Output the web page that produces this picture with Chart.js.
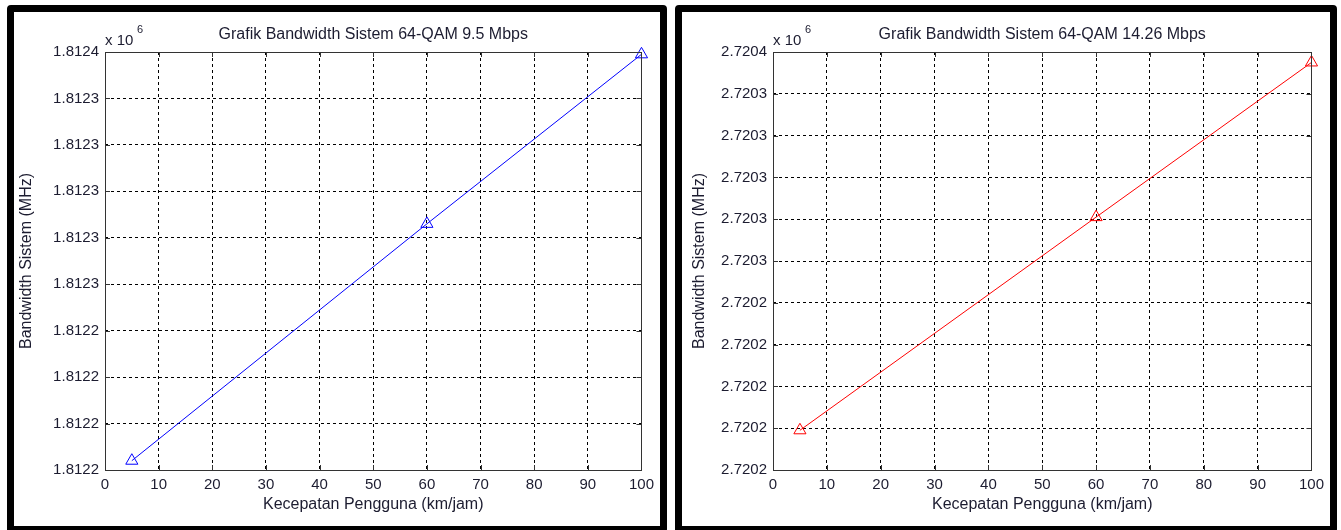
<!DOCTYPE html>
<html>
<head>
<meta charset="utf-8">
<script src="https://cdn.jsdelivr.net/npm/chart.js"></script>
<style>
  body { margin: 0; background: #fff; width: 1341px; height: 530px; overflow: hidden; position: relative; }
  .panel { position: absolute; top: 5px; border: 7px solid #000; border-radius: 4px; background: #fff; }
  #p1 { left: 7px; width: 646px; height: 514px; }
  #p2 { left: 675px; width: 648px; height: 514px; }
  canvas { display: block; }
</style>
</head>
<body>
<div class="panel" id="p1"><canvas id="chart1" width="646" height="514"></canvas></div>
<div class="panel" id="p2"><canvas id="chart2" width="648" height="514"></canvas></div>
<script>
// kecepatan pengguna (km/jam)
const speeds = [5, 60, 100];
// bandwidth sistem (Hz, axis shows x 10^6)
const bw95 = [1812184, 1812286, 1812359];
const bw1426 = [2720179, 2720281, 2720355];

const xTicks = { min: 0, max: 100, step: 10 };
const yTicks95 = { min: 1812180, max: 1812360, step: 20 };
const yTicks1426 = { min: 2720160, max: 2720360, step: 20 };

const FONT = '"Liberation Sans", Arial, sans-serif';
const TEXT = '#1c1c30';

// MATLAB style frame, inward ticks and texts
const matlabFrame = {
  id: 'matlabFrame',
  afterDraw(chart, args, opts) {
    const { ctx, chartArea: a, scales } = chart;
    ctx.save();
    ctx.strokeStyle = '#333';
    ctx.lineWidth = 1;
    ctx.beginPath();
    scales.x.ticks.forEach(t => {
      const x = Math.round(scales.x.getPixelForValue(t.value)) + 0.5;
      ctx.moveTo(x, a.bottom); ctx.lineTo(x, a.bottom - 5);
      ctx.moveTo(x, a.top); ctx.lineTo(x, a.top + 5);
    });
    scales.y.ticks.forEach(t => {
      const y = Math.round(scales.y.getPixelForValue(t.value)) + 0.5;
      ctx.moveTo(a.left, y); ctx.lineTo(a.left + 5, y);
      ctx.moveTo(a.right, y); ctx.lineTo(a.right - 5, y);
    });
    ctx.stroke();
    ctx.strokeRect(Math.round(a.left) + 0.5, Math.round(a.top) + 0.5,
      Math.round(a.right - a.left), Math.round(a.bottom - a.top));

    ctx.fillStyle = TEXT;
    ctx.font = '16px ' + FONT;
    ctx.textAlign = 'center';
    ctx.textBaseline = 'middle';
    ctx.fillText(opts.title, (a.left + a.right) / 2, a.top - 17);
    ctx.fillText(opts.xLabel, (a.left + a.right) / 2, a.bottom + 35);

    ctx.save();
    ctx.translate(a.left - opts.yLabelGap, (a.top + a.bottom) / 2);
    ctx.rotate(-Math.PI / 2);
    ctx.fillText(opts.yLabel, 0, 0);
    ctx.restore();

    ctx.font = '15px ' + FONT;
    ctx.textAlign = 'left';
    ctx.textBaseline = 'alphabetic';
    ctx.fillText('x 10', a.left, a.top - 7);
    ctx.font = '11px ' + FONT;
    ctx.fillText('6', a.left + 32, a.top - 19);
    ctx.restore();
  }
};

function makeChart(id, values, yt, color, title, yGap) {
  const ctx = document.getElementById(id).getContext('2d');
  return new Chart(ctx, {
    type: 'line',
    data: {
      datasets: [
        {
          data: speeds.map((s, i) => ({ x: s, y: values[i] })),
          borderColor: color,
          borderWidth: 1,
          backgroundColor: 'rgba(0,0,0,0)',
          pointStyle: 'triangle',
          pointRadius: 7,
          pointBorderWidth: 1,
          pointBorderColor: color,
          pointBackgroundColor: 'rgba(0,0,0,0)',
          tension: 0,
          clip: false,
        },
      ],
    },
    options: {
      responsive: false,
      animation: false,
      layout: { padding: { top: 40, right: 17, bottom: 0, left: 0 } },
      plugins: {
        legend: { display: false },
        tooltip: { enabled: false },
        matlabFrame: {
          title: title,
          xLabel: 'Kecepatan Pengguna (km/jam)',
          yLabel: 'Bandwidth Sistem (MHz)',
          yLabelGap: yGap,
        },
      },
      scales: {
        x: {
          type: 'linear',
          min: xTicks.min,
          max: xTicks.max,
          afterFit: s => { s.height = 56; },
          grid: { color: '#000', lineWidth: 1, drawTicks: false },
          border: { display: false, dash: [3, 3] },
          ticks: {
            stepSize: xTicks.step,
            padding: 6,
            color: TEXT,
            font: { family: FONT, size: 15 },
            maxRotation: 0,
          },
        },
        y: {
          min: yt.min,
          max: yt.max,
          afterFit: s => { s.width = 91; },
          grid: { color: '#000', lineWidth: 1, drawTicks: false },
          border: { display: false, dash: [3, 3] },
          ticks: {
            stepSize: yt.step,
            padding: 6,
            color: TEXT,
            font: { family: FONT, size: 15 },
            callback: v => (v / 1e6).toFixed(4),
          },
        },
      },
    },
    plugins: [matlabFrame],
  });
}

makeChart('chart1', bw95, yTicks95, '#0000ff', 'Grafik Bandwidth Sistem 64-QAM 9.5 Mbps', 78);
makeChart('chart2', bw1426, yTicks1426, '#ff0000', 'Grafik Bandwidth Sistem 64-QAM 14.26 Mbps', 73);
</script>
</body>
</html>
